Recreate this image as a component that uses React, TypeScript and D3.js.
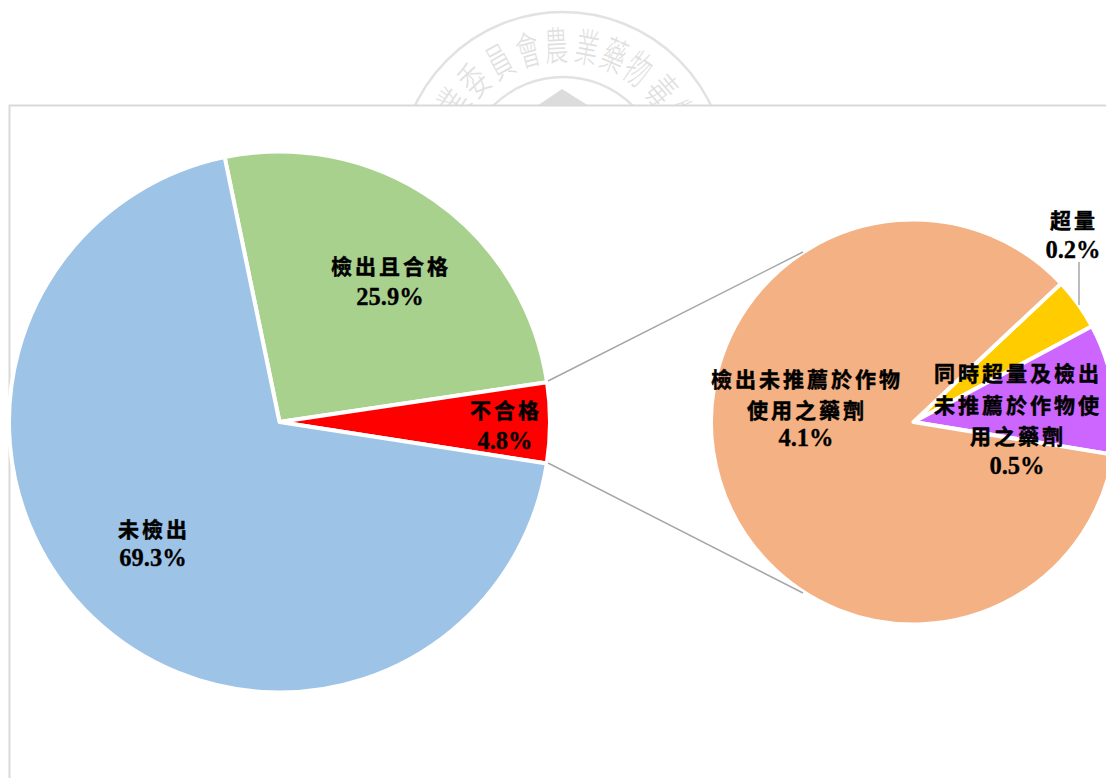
import { useEffect, useRef } from "react"
import * as d3 from "d3"

// main pie
const mainNames = ["檢出且合格", "不合格", "未檢出"]
const mainValues = [25.9, 4.8, 69.3]
const mainColors = ["#A9D18E", "#FF0000", "#9DC3E6"]

// breakdown of the 不合格 slice
const subNames = ["超量", "同時超量及檢出未推薦於作物使用之藥劑", "檢出未推薦於作物使用之藥劑"]
const subValues = [0.2, 0.5, 4.1]
const subColors = ["#FFCC00", "#CC66FF", "#F4B183"]

const sealChars = ["業", "委", "員", "會", "農", "業", "藥", "物", "毒", "物"]
const sealAngles = [-56, -43, -29, -15.5, -3, 10.6, 23, 35, 49, 62]

const labels = [
  { lines: ["檢出且合格", "25.9%"], x: 390, y: [266, 296] },
  { lines: ["不合格", "4.8%"], x: 505, y: [410, 440] },
  { lines: ["未檢出", "69.3%"], x: 153, y: [529, 557] },
  { lines: ["檢出未推薦於作物", "使用之藥劑", "4.1%"], x: 806, y: [379, 410, 437] },
  { lines: ["超量", "0.2%"], x: 1073, y: [220, 249] },
  { lines: ["同時超量及檢出", "未推薦於作物使", "用之藥劑", "0.5%"], x: 1017, y: [373, 405, 436, 465] },
]

const deg = Math.PI / 180

export default function App() {
  const svgRef = useRef<SVGSVGElement>(null)

  useEffect(() => {
    const svg = d3.select(svgRef.current)
    svg.selectAll("*").remove()

    // faint seal behind the chart
    const seal = svg.append("g").attr("transform", "translate(563,176)")
    seal.selectAll("circle").data([164, 99]).enter().append("circle")
      .attr("r", d => d).attr("fill", "none").attr("stroke", "#e2e2e2").attr("stroke-width", 2.5)
    seal.append("path").attr("d", d3.line()([[-26, -70], [-1, -87], [26, -70]])).attr("fill", "#dcdcdc")
    seal.selectAll("text").data(sealChars).enter().append("text")
      .attr("transform", (d, i) => `rotate(${sealAngles[i]}) translate(0,-131) scale(0.72,1.25)`)
      .attr("text-anchor", "middle").attr("dy", "0.38em")
      .attr("font-family", "Noto Sans CJK TC").attr("font-size", 32).attr("font-weight", 300)
      .attr("fill", "#e0e0e0").text(d => d)

    // chart area covers the seal
    svg.append("rect").attr("x", 9.5).attr("y", 105.5).attr("width", 1200).attr("height", 800)
      .attr("fill", "#fff").attr("stroke", "#d9d9d9").attr("stroke-width", 2)

    // leader lines
    const leaders: [number, number, number, number][] = [
      [548, 381, 803, 252],
      [548, 463, 803, 593],
      [1079, 262, 1079, 305],
    ]

    const drawPie = (values: number[], colors: string[], cx: number, cy: number, r: number, start: number) => {
      const pie = d3.pie<number>().sort(null).startAngle(start * deg).endAngle((start + 360) * deg)
      const arc = d3.arc<d3.PieArcDatum<number>>().innerRadius(0).outerRadius(r)
      svg.append("g").attr("transform", `translate(${cx},${cy})`)
        .selectAll("path").data(pie(values)).enter().append("path")
        .attr("d", arc)
        .attr("fill", (d, i) => colors[i])
        .attr("stroke", "#fff").attr("stroke-width", 4).attr("stroke-linejoin", "round")
    }

    drawPie(mainValues, mainColors, 279.5, 422, 270.5, -11.7)
    drawPie(subValues, subColors, 913.5, 422, 202.5, 46.8)

    svg.append("g").selectAll("line").data(leaders).enter().append("line")
      .attr("x1", d => d[0]).attr("y1", d => d[1]).attr("x2", d => d[2]).attr("y2", d => d[3])
      .attr("stroke", "#a6a6a6").attr("stroke-width", 1.5)

    // labels, CJK lines and numbers use different fonts
    labels.forEach(l => {
      l.lines.forEach((line, i) => {
        const isNum = /%$/.test(line)
        svg.append("text")
          .attr("x", l.x + (isNum ? 0 : 1)).attr("y", l.y[i]).attr("dy", "0.36em")
          .attr("text-anchor", "middle")
          .attr("font-family", isNum ? "Liberation Serif" : "Noto Sans CJK TC")
          .attr("font-weight", "bold")
          .attr("font-size", isNum ? 24.5 : 21)
          .attr("letter-spacing", isNum ? 0 : 3)
          .attr("stroke", "#000").attr("stroke-width", isNum ? 0.3 : 0.5)
          .attr("fill", "#000")
          .text(line)
      })
    })
  }, [])

  return (
    <svg ref={svgRef} width={1106} height={778} style={{ position: "absolute", left: 0, top: 0, background: "#fff" }}></svg>
  )
}
